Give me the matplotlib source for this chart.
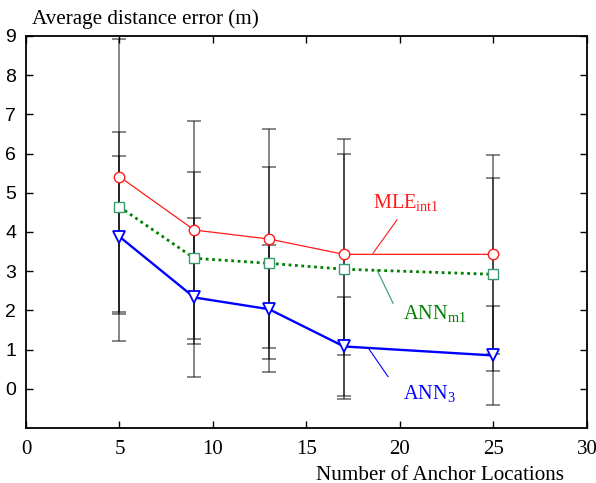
import matplotlib
matplotlib.use('Agg')
import matplotlib.pyplot as plt

plt.rcParams['mathtext.fontset'] = 'custom'
plt.rcParams['mathtext.rm'] = 'Liberation Serif'
plt.rcParams['mathtext.it'] = 'Liberation Serif'

# data
anchors = [5, 9, 13, 17, 25]

mle = [5.41, 4.05, 3.82, 3.43, 3.43]
mle_lo = [1.92, 1.28, 1.05, 0.87, 0.89]
mle_hi = [8.92, 6.82, 6.62, 6.00, 5.97]

ann_m1 = [4.64, 3.33, 3.20, 3.05, 2.92]
ann_m1_lo = [1.97, 1.15, 0.77, -0.26, 0.46]
ann_m1_hi = [5.95, 5.54, 5.67, 6.36, 5.38]

ann_3 = [3.88, 2.33, 2.03, 1.08, 0.85]
ann_3_lo = [1.23, 0.31, 0.42, -0.18, -0.41]
ann_3_hi = [6.54, 4.36, 3.67, 2.33, 2.10]

x_ticks = [0, 5, 10, 15, 20, 25, 30]
y_ticks = [0, 1, 2, 3, 4, 5, 6, 7, 8, 9]

serif = 'Liberation Serif'
sans = 'Liberation Sans'

fig = plt.figure(figsize=(5.96, 4.83), dpi=100)
ax = fig.add_axes([0.0436, 0.1139, 0.9413, 0.8116])

# error bars first, thin grey so overlaps look darker
for vals, lo, hi in [(mle, mle_lo, mle_hi),
                     (ann_m1, ann_m1_lo, ann_m1_hi),
                     (ann_3, ann_3_lo, ann_3_hi)]:
    err = [[v - l for v, l in zip(vals, lo)], [h - v for v, h in zip(vals, hi)]]
    ax.errorbar(anchors, vals, yerr=err, fmt='none', ecolor='black',
                elinewidth=1.1, capsize=5, capthick=1.1, alpha=0.6, zorder=2)

ax.plot(anchors, mle, color='#ff1a1a', lw=0.9, marker='o', ms=7.5,
        mfc='white', mec='#ff1a1a', mew=1.0, zorder=4)
ax.plot(anchors, ann_m1, color='#008000', lw=2.0, ls=(0, (1, 1.3)), marker='s',
        ms=6.5, mfc='white', mec='#3a9a70', mew=1.0, zorder=4)
ax.plot(anchors, ann_3, color='#0000ff', lw=1.7, marker='v', ms=9,
        mfc='white', mec='#0000ff', mew=1.3, zorder=4)

# labels with pointer lines
ax.plot([19.84, 18.56], [4.31, 3.46], color='#ff1a1a', lw=0.8, zorder=3)
ax.plot([18.77, 19.63], [3.03, 2.18], color='#2e9a70', lw=0.8, zorder=3)
ax.plot([18.29, 19.36], [1.05, 0.31], color='#0000ff', lw=0.8, zorder=3)
ax.text(18.55, 4.74, r'MLE$_{\mathrm{int1}}$', color='#ff1a1a', fontsize=14.6,
        family=serif, va='center', ha='left')
ax.text(20.15, 1.92, r'ANN$_{\mathrm{m1}}$', color='#008000', fontsize=14.6,
        family=serif, va='center', ha='left')
ax.text(20.15, -0.13, r'ANN$_{3}$', color='#0000ff', fontsize=14.6,
        family=serif, va='center', ha='left')

ax.set_xlim(0, 30)
ax.set_ylim(-1, 9)
ax.set_xticks(x_ticks)
ax.set_yticks(y_ticks)
ax.tick_params(direction='in', length=5, width=1.0, top=True, right=True,
               colors='black')
ax.tick_params(axis='x', pad=9)
ax.tick_params(axis='y', pad=7)
for lab in ax.get_xticklabels():
    lab.set_fontfamily(serif)
    lab.set_fontsize(15)
for lab in ax.get_yticklabels():
    lab.set_fontfamily(sans)
    lab.set_fontsize(14)
for sp in ax.spines.values():
    sp.set_linewidth(1.3)

fig.text(32 / 596, 1 - 19 / 483, 'Average distance error (m)', family=serif,
         fontsize=15.2, va='center', ha='left')
ax.set_xlabel('Number of Anchor Locations', family=serif, fontsize=15.2,
              va='center')
ax.xaxis.set_label_coords(0.738, -0.12)

fig.savefig('out.png', dpi=100)
